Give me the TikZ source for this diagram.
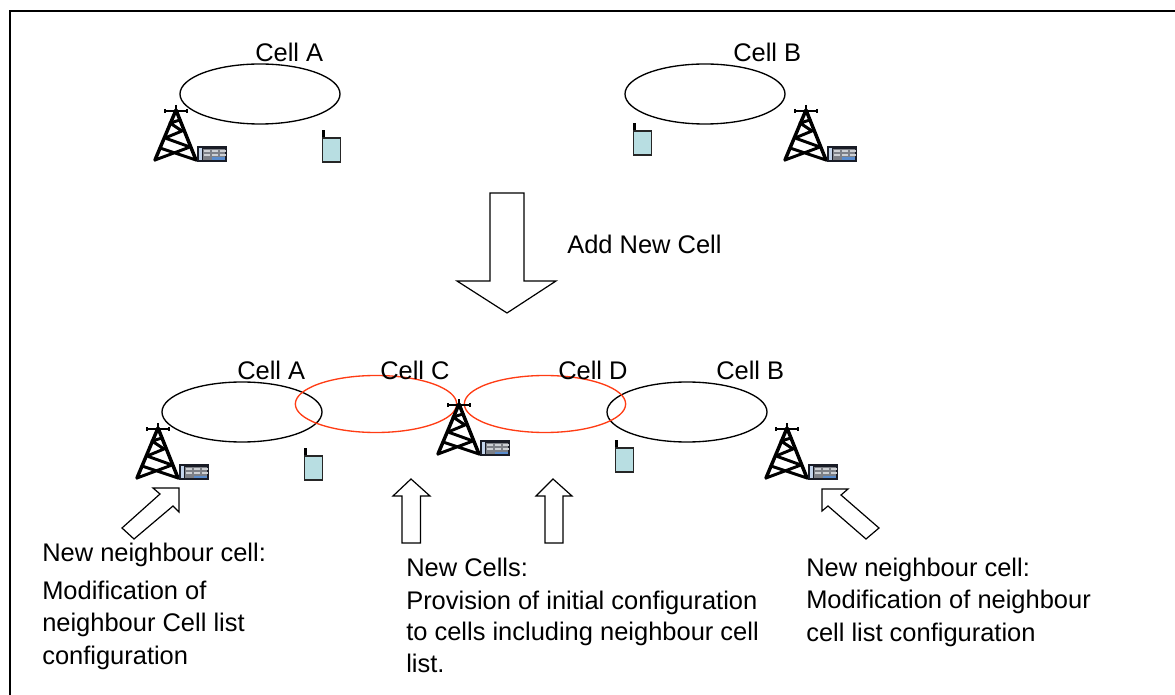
\documentclass[tikz,border=0pt]{standalone}
\usepackage{fontspec}
\usetikzlibrary{shapes.geometric}
\setmainfont{Liberation Sans}
\definecolor{cellred}{RGB}{255,60,20}
\definecolor{phonefill}{RGB}{184,222,226}
\definecolor{boxdark}{RGB}{25,28,38}
\definecolor{gridgrey}{RGB}{125,128,135}
\definecolor{gridlight}{RGB}{205,208,212}
\definecolor{gridblue}{RGB}{90,140,205}
\definecolor{stripblue}{RGB}{195,212,235}
\tikzset{
  x=0.75pt,y=-0.75pt,
  cell/.style={draw=black,line width=1pt,ellipse,minimum width=120pt,minimum height=45pt,inner sep=0pt},
  newcell/.style={cell,draw=cellred,minimum width=121pt,minimum height=42.75pt},
  lbl/.style={anchor=base west,inner sep=0pt,font=\fontsize{19.1pt}{22pt}\selectfont},
  blockarrow/.style={draw=black,line width=0.9pt,fill=white,line join=miter},
  towerline/.style={line width=2.6pt,line cap=round,line join=round},
  pics/tower/.style={code={
    \draw[towerline] (155,160) -- (176,110) -- (196,160);
    \draw[line width=1pt] (176,105) -- (176,112) (165,111) -- (187,111);
    \draw[line width=1pt] (165,109) -- (165,113) (187,109) -- (187,113);
    \draw[towerline,line width=2.2pt] (180,120) -- (170,123) -- (182,131) -- (165,138) -- (190,147) -- (155,160) (160,148) -- (196,160);
    \fill[boxdark] (197,146) rectangle (227,162);
    \fill[gridgrey] (203,149) rectangle (225,160);
    \foreach \cx in {204,212,220}{
      \fill[gridlight] (\cx,150) rectangle ++(5.5,2.2);
      \fill[gridlight] (\cx,154) rectangle ++(5.5,2.2);
    }
    \fill[gridblue] (212,157.5) rectangle (225,160);
    \fill[stripblue] (198.5,148) rectangle (202,160);
  }},
  pics/handset/.style={code={
    \fill[black] (322,130) rectangle (324.5,138);
    \draw[draw=black!85,line width=1pt,fill=phonefill] (322.5,138) rectangle (340.5,162);
  }},
}
\begin{document}
\begin{tikzpicture}
\useasboundingbox (0,0) rectangle (1175,695);
\clip (0,0) rectangle (1175,695);
\draw[line width=1.4pt] (10,11) rectangle (1190,710);

% top row
\node[cell] (topA) at (260,94) {};
\node[cell] (topB) at (705,94) {};
\node[lbl] (lblTopA) at (255,62) {Cell A};
\node[lbl] (lblTopB) at (733,62) {Cell B};
\pic at (0,0) {tower};
\pic at (630,0) {tower};
\pic at (0,0) {handset};
\pic at (311,-7) {handset};

% add arrow
\draw[blockarrow] (490,193) -- (524,193) -- (524,281) -- (556,281) -- (507,313) -- (457,281) -- (490,281) -- cycle;
\node[lbl] (lblAdd) at (567,254) {Add New Cell};

% bottom row
\node[cell] (botA) at (242,412) {};
\node[cell] (botB) at (687,412) {};
\node[newcell] (botC) at (376,404) {};
\node[newcell] (botD) at (545,404) {};
\node[lbl] (lblBotA) at (237,380) {Cell A};
\node[lbl] (lblBotC) at (380,380) {Cell C};
\node[lbl] (lblBotD) at (558,380) {Cell D};
\node[lbl] (lblBotB) at (716,380) {Cell B};
\pic at (-18,318) {tower};
\pic at (283,294) {tower};
\pic at (611,318) {tower};
\pic at (-18,318) {handset};
\pic at (293,310) {handset};

% pointer arrows
\draw[blockarrow] (179,488) -- (179,512) -- (173,506) -- (134,539) -- (122,528) -- (160,494) -- (153,488) -- cycle;
\draw[blockarrow] (822,489) -- (822,511) -- (828,506) -- (866,539) -- (879,528) -- (841,495) -- (848,489) -- cycle;
\draw[blockarrow] (411,479) -- (430,496) -- (420.5,496) -- (420.5,543) -- (402,543) -- (402,496) -- (393,496) -- cycle;
\draw[blockarrow] (553,479) -- (572,496) -- (563,496) -- (563,543) -- (545,543) -- (545,496) -- (536,496) -- cycle;

% captions
\node[lbl] (capA1) at (42,561) {New neighbour cell:};
\node[lbl] (capA2) at (42,599) {Modification of};
\node[lbl] (capA3) at (42,631) {neighbour Cell list};
\node[lbl] (capA4) at (42,664) {configuration};
\node[lbl] (capC1) at (406,576) {New Cells:};
\node[lbl] (capC2) at (406,609) {Provision of initial configuration};
\node[lbl] (capC3) at (406,640) {to cells including neighbour cell};
\node[lbl] (capC4) at (406,672) {list.};
\node[lbl] (capB1) at (806,576) {New neighbour cell:};
\node[lbl] (capB2) at (806,608) {Modification of neighbour};
\node[lbl] (capB3) at (806,641) {cell list configuration};
\end{tikzpicture}
\end{document}
